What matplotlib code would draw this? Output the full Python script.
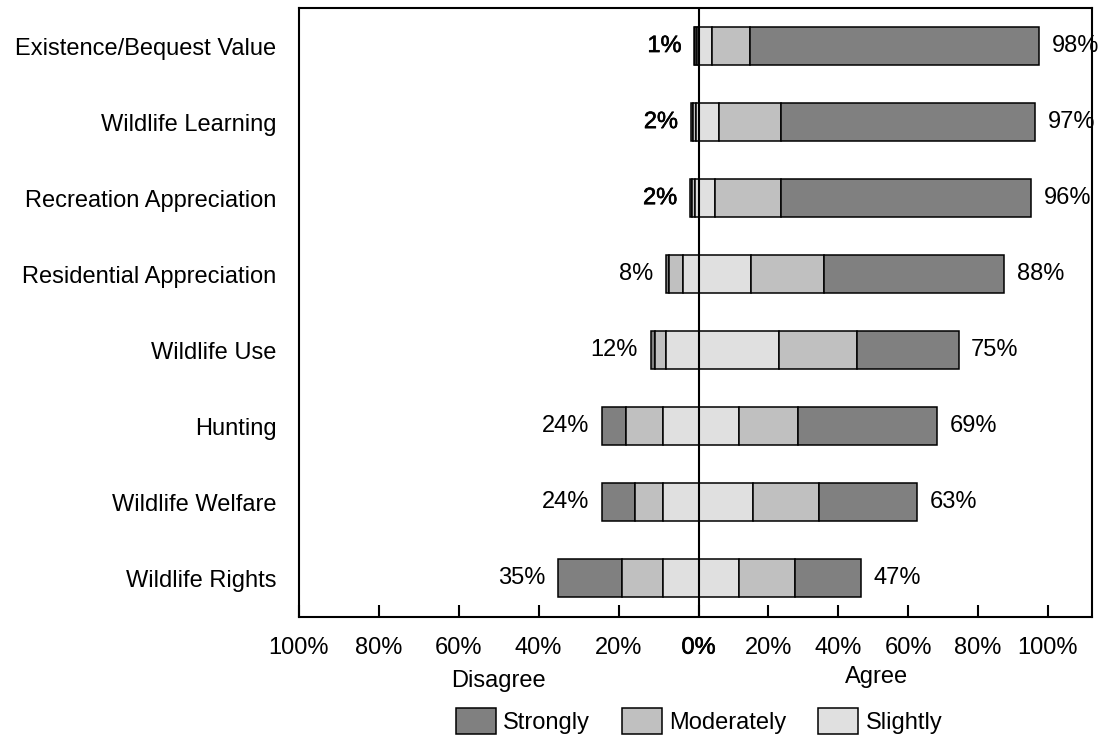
import numpy as np
import matplotlib
matplotlib.use("Agg")
import matplotlib.pyplot as plt
import matplotlib.patheffects as pe
from matplotlib.transforms import blended_transform_factory

plt.rcParams['font.family'] = ['Liberation Sans', 'DejaVu Sans']

categories = ["Existence/Bequest Value", "Wildlife Learning", "Recreation Appreciation",
              "Residential Appreciation", "Wildlife Use", "Hunting",
              "Wildlife Welfare", "Wildlife Rights"]

# Disagree side (percent)
dis_slightly = [0.5, 0.75, 0.9, 3.9, 8.1, 8.9, 8.9, 8.9]
dis_moderately = [0.4, 0.75, 0.8, 3.4, 2.8, 9.2, 7.1, 10.25]
dis_strongly = [0.2, 0.5, 0.5, 0.9, 1.1, 6.0, 8.2, 15.9]
# Agree side (percent)
agr_slightly = [3.9, 5.8, 4.7, 14.9, 23.0, 11.5, 15.5, 11.5]
agr_moderately = [10.8, 17.7, 18.9, 21.0, 22.3, 17.1, 19.1, 16.0]
agr_strongly = [82.8, 72.9, 71.6, 51.6, 29.2, 39.7, 28.1, 18.9]

dis_labels = ["1%", "2%", "2%", "8%", "12%", "24%", "24%", "35%"]
agr_labels = ["98%", "97%", "96%", "88%", "75%", "69%", "63%", "47%"]

tick_values = [-100, -80, -60, -40, -20, 0, 20, 40, 60, 80, 100]
tick_labels = ["100%", "80%", "60%", "40%", "20%", "0%", "20%", "40%", "60%", "80%", "100%"]

legend_names = ["Strongly", "Moderately", "Slightly"]
c_strong, c_mod, c_slight = "#808080", "#c0c0c0", "#e0e0e0"

FS = 17

fig = plt.figure(figsize=(10.99, 7.36), dpi=100)
ax = fig.add_axes([298.5 / 1099, (736 - 616.5) / 736, (1092 - 298.5) / 1099, (616.5 - 8) / 736])


def fwd(x):
    x = np.asarray(x, dtype=float)
    return np.where(x < 0, x * 4.0, x * 3.49)


def inv(y):
    y = np.asarray(y, dtype=float)
    return np.where(y < 0, y / 4.0, y / 3.49)


ax.set_xscale('function', functions=(fwd, inv))

y = np.arange(len(categories))
h = 0.5
ds = np.array(dis_slightly); dm = np.array(dis_moderately); dst = np.array(dis_strongly)
as_ = np.array(agr_slightly); am = np.array(agr_moderately); ast = np.array(agr_strongly)

kw = dict(height=h, edgecolor="black", linewidth=1.1, zorder=2)
b_st = ax.barh(y, dst, left=-(ds + dm + dst), color=c_strong, **kw)
b_m = ax.barh(y, dm, left=-(ds + dm), color=c_mod, **kw)
b_s = ax.barh(y, ds, left=-ds, color=c_slight, **kw)
ax.barh(y, as_, left=0, color=c_slight, **kw)
ax.barh(y, am, left=as_, color=c_mod, **kw)
ax.barh(y, ast, left=as_ + am, color=c_strong, **kw)

ax.axvline(0, color="black", linewidth=1.5, zorder=3)

bold_fx = [pe.withStroke(linewidth=0.45, foreground="black")]
for i in range(len(categories)):
    left_end = -(ds[i] + dm[i] + dst[i])
    right_end = as_[i] + am[i] + ast[i]
    t = ax.annotate(dis_labels[i], xy=(left_end, y[i]), xytext=(-9, 0),
                    textcoords="offset points", ha="right", va="center", fontsize=FS)
    if i < 3:
        t.set_path_effects(bold_fx)
    ax.annotate(agr_labels[i], xy=(right_end, y[i]), xytext=(9, 0),
                textcoords="offset points", ha="left", va="center", fontsize=FS)

ax.set_xlim(-100, 112.7)
ax.set_ylim(len(categories) - 0.5, -0.5)
ax.set_yticks(y)
ax.set_yticklabels(categories, fontsize=FS)
ax.tick_params(axis="y", length=0, pad=16)
ax.set_xticks(tick_values)
ax.set_xticklabels(tick_labels, fontsize=FS)
ax.tick_params(axis="x", direction="in", length=9, width=1.5, pad=14.5)
for lab in ax.get_xticklabels():
    if lab.get_text() == "0%":
        lab.set_path_effects(bold_fx)
for sp in ax.spines.values():
    sp.set_linewidth(1.5)

tr = blended_transform_factory(ax.transData, fig.transFigure)
ax.text(-50, (736 - 681) / 736, "Disagree", transform=tr, ha="center", va="center", fontsize=FS)
ax.text(51, (736 - 677) / 736, "Agree", transform=tr, ha="center", va="center", fontsize=FS)

fig.legend([b_st, b_m, b_s], legend_names, loc="center", ncol=3,
           bbox_to_anchor=(699 / 1099, 15 / 736), frameon=False, fontsize=FS,
           handlelength=1.7, handleheight=1.3, handletextpad=0.3, columnspacing=1.35,
           borderpad=0.0, borderaxespad=0.0)

fig.savefig("out.png", dpi=100)
